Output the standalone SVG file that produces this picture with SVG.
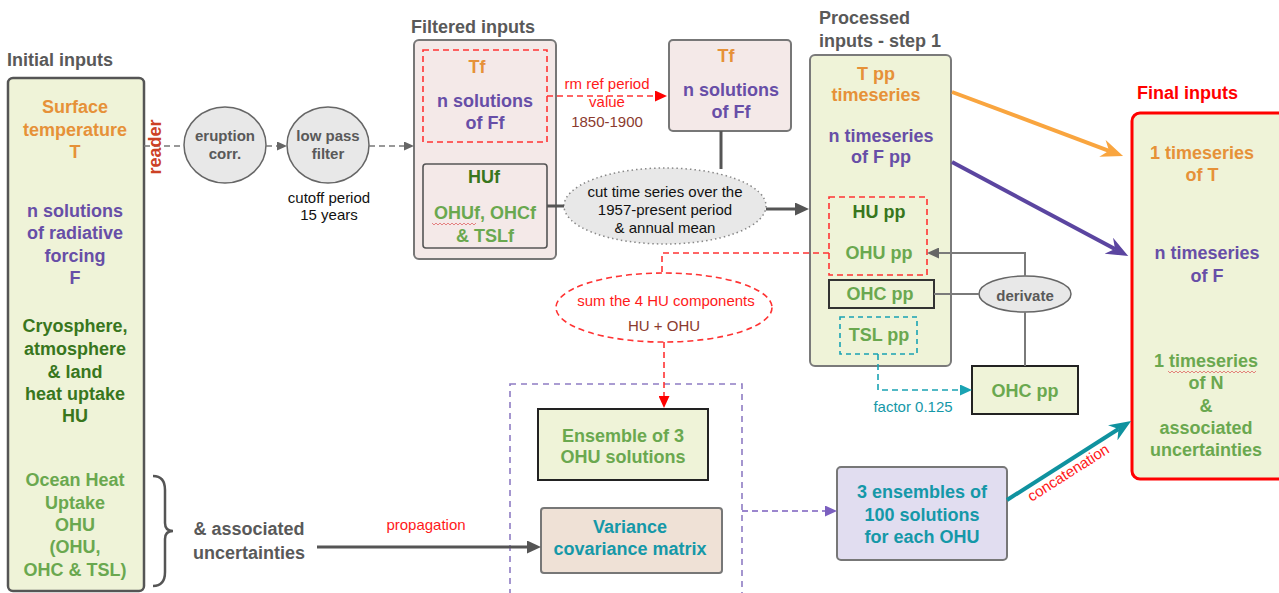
<svg xmlns="http://www.w3.org/2000/svg" width="1279" height="593" viewBox="0 0 1279 593">
  <style>
    text { font-family: "Liberation Sans", Arial, sans-serif; }
    .b { font-weight: bold; font-size: 18px; text-anchor: middle; }
    .title { font-weight: bold; font-size: 18px; fill: #595959; }
    .small { font-size: 15px; text-anchor: middle; }
    .orange { fill: #e69138; }
    .purple { fill: #674ea7; }
    .dgreen { fill: #38761d; }
    .lgreen { fill: #6aa84f; }
    .teal { fill: #1598a8; }
    .red { fill: #ff1a1a; }
    .dred { fill: #8b3a2e; }
    .gray { fill: #595959; }
    .greenbox { fill: #eff3d8; }
    .pinkbox { fill: #f4e9e8; }
    .oval { fill: #e8e8e8; stroke: #666; stroke-width: 1.5; }
    .squiggle { fill: none; stroke: #e06666; stroke-width: 0.8; }
  </style>
  <defs>
    <marker id="arrGray" markerUnits="userSpaceOnUse" markerWidth="10" markerHeight="9" viewBox="0 0 10 9" refX="0" refY="4.5" orient="auto">
      <path d="M0,0 L10,4.5 L0,9 Z" fill="#666"/>
    </marker>
    <marker id="arrDark" markerUnits="userSpaceOnUse" markerWidth="14" markerHeight="13" viewBox="0 0 14 13" refX="0" refY="6.5" orient="auto">
      <path d="M0,0 L14,6.5 L0,13 Z" fill="#555"/>
    </marker>
    <marker id="arrRed" markerUnits="userSpaceOnUse" markerWidth="12" markerHeight="11" viewBox="0 0 12 11" refX="0" refY="5.5" orient="auto">
      <path d="M0,0 L12,5.5 L0,11 Z" fill="#ff0000"/>
    </marker>
    <marker id="arrTeal" markerUnits="userSpaceOnUse" markerWidth="12" markerHeight="11" viewBox="0 0 12 11" refX="0" refY="5.5" orient="auto">
      <path d="M0,0 L12,5.5 L0,11 Z" fill="#1aa3b3"/>
    </marker>
    <marker id="arrPurple" markerUnits="userSpaceOnUse" markerWidth="12" markerHeight="11" viewBox="0 0 12 11" refX="0" refY="5.5" orient="auto">
      <path d="M0,0 L12,5.5 L0,11 Z" fill="#7b5fbf"/>
    </marker>
    <marker id="arrMid" markerUnits="userSpaceOnUse" markerWidth="12" markerHeight="11" viewBox="0 0 12 11" refX="0" refY="5.5" orient="auto">
      <path d="M0,0 L12,5.5 L0,11 Z" fill="#666"/>
    </marker>
    <marker id="openOrange" markerUnits="userSpaceOnUse" markerWidth="22" markerHeight="18" viewBox="0 0 22 18" refX="7" refY="9" orient="auto">
      <path d="M0,0 L22,9 L0,18 L7,9 Z" fill="#f9a53f"/>
    </marker>
    <marker id="openPurple" markerUnits="userSpaceOnUse" markerWidth="22" markerHeight="18" viewBox="0 0 22 18" refX="7" refY="9" orient="auto">
      <path d="M0,0 L22,9 L0,18 L7,9 Z" fill="#5b45a0"/>
    </marker>
    <marker id="openTeal" markerUnits="userSpaceOnUse" markerWidth="22" markerHeight="18" viewBox="0 0 22 18" refX="7" refY="9" orient="auto">
      <path d="M0,0 L22,9 L0,18 L7,9 Z" fill="#0f929f"/>
    </marker>
  </defs>

  <!-- section titles -->
  <text class="title" x="7" y="66">Initial inputs</text>
  <text class="title" x="411" y="33">Filtered inputs</text>
  <text class="title" x="819" y="24">Processed</text>
  <text class="title" x="819" y="47">inputs - step 1</text>
  <text class="title" x="1137" y="99" style="fill:#ff0000">Final inputs</text>

  <!-- initial inputs -->
  <g id="initial-inputs">
    <rect x="8" y="78" width="136" height="513" rx="5" class="greenbox" stroke="#555" stroke-width="2.5"/>
    <text class="b orange" x="75" y="113">Surface</text>
    <text class="b orange" x="75" y="136">temperature</text>
    <text class="b orange" x="75" y="158">T</text>
    <text class="b purple" x="75" y="217">n solutions</text>
    <text class="b purple" x="75" y="239">of radiative</text>
    <text class="b purple" x="75" y="262">forcing</text>
    <text class="b purple" x="75" y="284">F</text>
    <text class="b dgreen" x="75" y="332">Cryosphere,</text>
    <text class="b dgreen" x="75" y="355">atmosphere</text>
    <text class="b dgreen" x="75" y="378">&amp; land</text>
    <text class="b dgreen" x="75" y="400">heat uptake</text>
    <text class="b dgreen" x="75" y="422">HU</text>
    <text class="b lgreen" x="75" y="486">Ocean Heat</text>
    <text class="b lgreen" x="75" y="509">Uptake</text>
    <text class="b lgreen" x="75" y="531">OHU</text>
    <text class="b lgreen" x="75" y="553">(OHU,</text>
    <text class="b lgreen" x="75" y="576">OHC &amp; TSL)</text>
  </g>

  <!-- uncertainties brace -->
  <g id="uncertainties">
    <path d="M153,476 Q165,476 165,490 L165,523 Q165,531 173,531 Q165,531 165,539 L165,572 Q165,586 153,586" fill="none" stroke="#555" stroke-width="2.5"/>
    <text class="b gray" x="249" y="535">&amp; associated</text>
    <text class="b gray" x="249" y="559">uncertainties</text>
  </g>

  <g id="eruption-corr">
    <ellipse cx="225" cy="145" rx="41" ry="38" class="oval"/>
    <text class="gray" x="225" y="141" style="font-weight:bold;font-size:15px;text-anchor:middle">eruption</text>
    <text class="gray" x="225" y="159" style="font-weight:bold;font-size:15px;text-anchor:middle">corr.</text>
  </g>

  <g id="low-pass-filter">
    <ellipse cx="328" cy="145" rx="41" ry="38" class="oval"/>
    <text class="gray" x="328" y="141" style="font-weight:bold;font-size:15px;text-anchor:middle">low pass</text>
    <text class="gray" x="328" y="159" style="font-weight:bold;font-size:15px;text-anchor:middle">filter</text>
    <text class="small" x="329" y="203" fill="#111">cutoff period</text>
    <text class="small" x="329" y="220" fill="#111">15 years</text>
  </g>

  <!-- filtered inputs -->
  <g id="filtered-inputs">
    <rect x="414" y="40" width="142" height="219" rx="5" class="pinkbox" stroke="#777" stroke-width="2"/>
    <rect x="423" y="50" width="124" height="92" fill="none" stroke="#ff3333" stroke-width="1.6" stroke-dasharray="6,4"/>
    <text class="b orange" x="477" y="73">Tf</text>
    <text class="b purple" x="485" y="107">n solutions</text>
    <text class="b purple" x="485" y="129">of Ff</text>
    <rect x="423" y="164" width="124" height="84" rx="3" class="pinkbox" stroke="#555" stroke-width="1.6"/>
    <text class="b dgreen" x="484" y="183">HUf</text>
    <text class="b lgreen" x="485" y="219">OHUf, OHCf</text>
    <path class="squiggle" d="M432,223 l2,2 l2,-2 l2,2 l2,-2 l2,2 l2,-2 l2,2 l2,-2 l2,2 l2,-2 l2,2 l2,-2 l2,2 l2,-2 l2,2 l2,-2 l2,2 l2,-2 l2,2 l2,-2 l2,2 l2,-2"/>
    <text class="b lgreen" x="485" y="242">&amp; TSLf</text>
  </g>

  <g id="ref-removed">
    <rect x="669" y="40" width="122" height="91" rx="4" class="pinkbox" stroke="#777" stroke-width="2"/>
    <text class="b orange" x="726" y="62">Tf</text>
    <text class="b purple" x="731" y="96">n solutions</text>
    <text class="b purple" x="731" y="118">of Ff</text>
  </g>

  <g id="cut-time-series">
    <ellipse cx="665" cy="206" rx="101" ry="38" fill="#e8e8e8" stroke="#888" stroke-width="1.5" stroke-dasharray="1.5,3"/>
    <text class="small" x="665" y="197" fill="#111">cut time series over the</text>
    <text class="small" x="665" y="215" fill="#111">1957-present period</text>
    <text class="small" x="665" y="233" fill="#111">&amp; annual mean</text>
  </g>

  <!-- processed inputs -->
  <g id="processed-inputs">
    <rect x="810" y="55" width="141" height="311" rx="5" class="greenbox" stroke="#7a7a7a" stroke-width="2"/>
    <text class="b orange" x="876" y="80">T pp</text>
    <text class="b orange" x="876" y="101">timeseries</text>
    <text class="b purple" x="881" y="142">n timeseries</text>
    <text class="b purple" x="881" y="163">of F pp</text>
    <rect x="829" y="197" width="98" height="78" fill="none" stroke="#ff3333" stroke-width="1.6" stroke-dasharray="6,4"/>
    <text class="b dgreen" x="879" y="218">HU pp</text>
    <text class="b lgreen" x="879" y="259">OHU pp</text>
    <rect x="829" y="280" width="105" height="28" fill="#eff3d8" stroke="#333" stroke-width="2"/>
    <text class="b lgreen" x="880" y="300">OHC pp</text>
    <rect x="840" y="317" width="77" height="37" fill="none" stroke="#1aa3b3" stroke-width="1.6" stroke-dasharray="5,4"/>
    <text class="b lgreen" x="879" y="341">TSL pp</text>
  </g>

  <g id="derivate">
    <ellipse cx="1025" cy="294" rx="46" ry="18" class="oval"/>
    <text class="gray" x="1025" y="301" style="font-weight:bold;font-size:15px;text-anchor:middle">derivate</text>
  </g>

  <g id="ohc-pp">
    <rect x="972" y="366" width="106" height="48" class="greenbox" stroke="#222" stroke-width="2"/>
    <text class="b lgreen" x="1025" y="397">OHC pp</text>
  </g>

  <g id="sum-hu">
    <ellipse cx="664" cy="307.5" rx="108" ry="34.5" fill="#fff" stroke="#ff3333" stroke-width="1.6" stroke-dasharray="6,4"/>
    <text class="small red" x="666" y="306">sum the 4 HU components</text>
    <text class="small dred" x="664" y="331">HU + OHU</text>
  </g>

  <!-- OHU uncertainty group -->
  <g id="ohu-group">
    <rect x="510" y="384" width="232" height="220" fill="none" stroke="#8e7cc3" stroke-width="1.6" stroke-dasharray="6,5"/>
  </g>

  <g id="ensemble-3">
    <rect x="538" y="409" width="170" height="71" class="greenbox" stroke="#222" stroke-width="2"/>
    <text class="b lgreen" x="623" y="442">Ensemble of 3</text>
    <text class="b lgreen" x="623" y="463">OHU solutions</text>
  </g>

  <g id="variance-covariance">
    <rect x="541" y="508" width="181" height="65" rx="3" fill="#efe1d6" stroke="#777" stroke-width="2"/>
    <text class="b teal" x="630" y="533">Variance</text>
    <text class="b teal" x="630" y="555">covariance matrix</text>
  </g>

  <g id="ensembles-100">
    <rect x="837" y="467" width="170" height="93" rx="4" fill="#e1ddf0" stroke="#777" stroke-width="2"/>
    <text class="b teal" x="922" y="498">3 ensembles of</text>
    <text class="b teal" x="922" y="521">100 solutions</text>
    <text class="b teal" x="922" y="543">for each OHU</text>
  </g>

  <!-- final inputs -->
  <g id="final-inputs">
    <rect x="1132" y="113" width="170" height="366" rx="8" class="greenbox" stroke="#ff0000" stroke-width="3"/>
    <text class="b orange" x="1202" y="159">1 timeseries</text>
    <text class="b orange" x="1202" y="181">of T</text>
    <text class="b purple" x="1207" y="259">n timeseries</text>
    <text class="b purple" x="1207" y="282">of F</text>
    <text class="b lgreen" x="1206" y="367">1 timeseries</text>
    <path class="squiggle" d="M1168,371 l2,2 l2,-2 l2,2 l2,-2 l2,2 l2,-2 l2,2 l2,-2 l2,2 l2,-2 l2,2 l2,-2 l2,2 l2,-2 l2,2 l2,-2 l2,2 l2,-2 l2,2 l2,-2 l2,2 l2,-2 l2,2 l2,-2 l2,2 l2,-2 l2,2 l2,-2 l2,2 l2,-2 l2,2 l2,-2 l2,2 l2,-2 l2,2 l2,-2 l2,2 l2,-2 l2,2 l2,-2 l2,2 l2,-2 l2,2 l2,-2"/>
    <text class="b lgreen" x="1206" y="389">of N</text>
    <text class="b lgreen" x="1206" y="412">&amp;</text>
    <text class="b lgreen" x="1206" y="434">associated</text>
    <text class="b lgreen" x="1206" y="456">uncertainties</text>
  </g>

  <!-- connectors, drawn over the nodes -->
  <g id="connectors" fill="none">
    <line x1="144" y1="146" x2="184" y2="146" stroke="#777" stroke-width="1.6" stroke-dasharray="6,4"/>
    <line x1="266" y1="146" x2="277" y2="146" stroke="#777" stroke-width="1.6" stroke-dasharray="6,4" marker-end="url(#arrGray)"/>
    <line x1="369" y1="146" x2="404" y2="146" stroke="#777" stroke-width="1.6" stroke-dasharray="6,4" marker-end="url(#arrGray)"/>
    <line x1="547" y1="96" x2="655" y2="96" stroke="#ff3333" stroke-width="1.6" stroke-dasharray="6,4" marker-end="url(#arrRed)"/>
    <line x1="547" y1="206" x2="564" y2="206" stroke="#555" stroke-width="3"/>
    <line x1="721" y1="131" x2="721" y2="169" stroke="#555" stroke-width="3"/>
    <line x1="766" y1="209" x2="795" y2="209" stroke="#555" stroke-width="3" marker-end="url(#arrDark)"/>
    <polyline points="829,253 662,253 662,274" stroke="#ff3333" stroke-width="1.6" stroke-dasharray="6,4"/>
    <line x1="664" y1="342" x2="664" y2="396" stroke="#ff3333" stroke-width="1.6" stroke-dasharray="6,4" marker-end="url(#arrRed)"/>
    <line x1="934" y1="294" x2="979" y2="294" stroke="#7a7a7a" stroke-width="2"/>
    <polyline points="1025,276 1025,253 939,253" stroke="#7a7a7a" stroke-width="2" marker-end="url(#arrMid)"/>
    <line x1="1025" y1="312" x2="1025" y2="366" stroke="#7a7a7a" stroke-width="2"/>
    <polyline points="878,354 878,390 960,390" stroke="#1aa3b3" stroke-width="1.6" stroke-dasharray="6,4" marker-end="url(#arrTeal)"/>
    <line x1="317" y1="547" x2="527" y2="547" stroke="#555" stroke-width="3" marker-end="url(#arrDark)"/>
    <line x1="742" y1="511" x2="825" y2="511" stroke="#7b5fbf" stroke-width="1.6" stroke-dasharray="6,4" marker-end="url(#arrPurple)"/>
    <line x1="952" y1="92" x2="1109" y2="150.8" stroke="#f9a53f" stroke-width="4" marker-end="url(#openOrange)"/>
    <line x1="952" y1="162" x2="1115" y2="249" stroke="#5b45a0" stroke-width="4" marker-end="url(#openPurple)"/>
    <line x1="1007" y1="500" x2="1118.5" y2="429" stroke="#0f929f" stroke-width="4" marker-end="url(#openTeal)"/>
  </g>

  <!-- connector labels -->
  <g id="labels">
    <text x="161" y="147" transform="rotate(-90 161 147)" style="font-weight:bold;font-size:18px;text-anchor:middle;fill:#cc4125">reader</text>
    <text class="small red" x="607" y="89">rm ref period</text>
    <text class="small red" x="607" y="107">value</text>
    <text class="small dred" x="607" y="127">1850-1900</text>
    <text class="small teal" x="913" y="412">factor 0.125</text>
    <text class="small red" x="426" y="530">propagation</text>
    <text class="small red" x="1071" y="477" transform="rotate(-32.5 1071 477)">concatenation</text>
  </g>
</svg>
